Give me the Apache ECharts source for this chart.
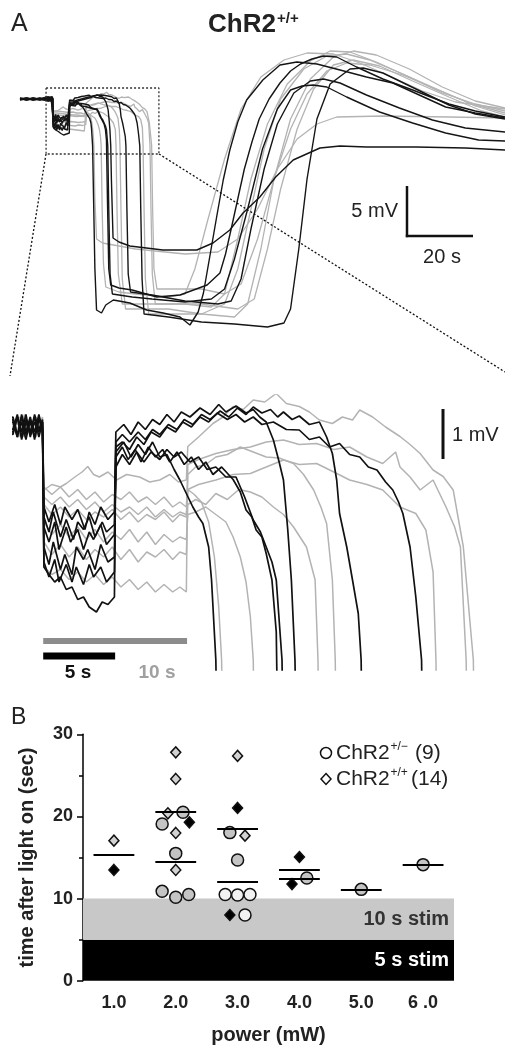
<!DOCTYPE html>
<html><head><meta charset="utf-8">
<script src="https://cdn.jsdelivr.net/npm/echarts@6.0.0/dist/echarts.min.js"></script>
<style>html,body{margin:0;padding:0;background:#fff}#c{width:505px;height:1047px}</style>
</head><body><div id="c"></div>
<script>
// ---------- Panel A: membrane potential traces, [time (s), Vm (mV rel. baseline)] ----------
// black = 5 s stimulation, grey = 10 s stimulation
const black1 = [[0,0.05],[2,-0.1],[4,0.1],[6,-0.05],[7.9,0.1],[8.2,-0.2],[8.5,0.25],[8.8,-0.1],[9.1,0.2],[9.4,-0.25],[9.7,0.15],[9.95,0.0],
 [10.05,-2.4],[10.4,-2.75],[10.7,-2.3],[11.2,-2.85],[11.5,-2.55],[12,-2.95],[12.3,-2.4],[12.8,-2.65],[13.1,-2.45],[13.6,-2.85],[14,-2.35],[14.5,-2.7],[14.95,-2.6],
 [15.05,-0.5],[15.6,-0.3],[16.1,-0.6],[16.6,-0.35],[17.1,-0.55],[17.6,-0.3],[18.1,-0.6],[18.6,-0.55],[19.1,-0.85],[19.5,-1.06],[19.9,-1.3],[20.4,-1.6],[20.8,-1.8],[21.1,-1.93],[21.5,-2.4],[21.7,-3.06],[22.0,-4.66],
 [22.3,-10],[22.7,-17],[23.2,-21.1],[24.7,-21.4],[26,-20.6],[28.3,-20.1],[33.3,-20.4],[38.4,-21.1],[43.4,-21.4],[48.5,-21.8],[51.5,-22.6],[54,-21.3],[55.6,-19.4],[57.5,-15.8],[59.6,-11.8],[61.6,-8.1],[63.6,-5.1],[66,-2.3],[68.7,-0.1],[73.6,1.9],[78.8,3.4],[83.9,3.7],[90,3.5],[97,2.9],[105,2.2],[113,1.6],[121,0.4],[129,-0.8],[138,-1.4],[147,-1.9]];
const black2 = [[0,-0.05],[2,0.1],[4,-0.1],[6,0.05],[7.9,-0.15],[8.2,0.2],[8.5,-0.1],[8.8,0.25],[9.1,-0.2],[9.4,0.1],[9.7,-0.1],[9.95,0.1],
 [10.05,-2.0],[10.4,-2.3],[10.8,-1.9],[11.1,-2.45],[11.6,-2.0],[11.9,-2.3],[12.4,-2.05],[12.8,-2.45],[13.2,-2.1],[13.5,-2.25],[14,-1.95],[14.4,-2.35],[14.95,-2.15],
 [15.05,-0.6],[15.5,-0.4],[15.9,-0.65],[16.4,-0.45],[16.8,-0.7],[17.3,-0.4],[17.8,-0.6],[18.3,-0.45],[18.8,-0.7],[19.3,-0.5],[19.8,-0.75],[20.3,-0.6],[20.8,-0.85],[21.3,-0.7],[21.8,-0.95],[22.4,-0.8],[23.2,-1.05],[23.7,-1.3],[24.1,-1.66],[24.5,-1.8],[24.8,-2.06],[25.2,-2.2],[25.5,-2.53],[25.9,-3.06],[26.2,-4.1],
 [26.5,-10],[26.9,-17],[27.5,-18.6],[30,-18.9],[34,-19.1],[41.5,-19.8],[48.5,-19.6],[56.7,-18.6],[60.6,-17.4],[62.3,-15.5],[64,-13],[66,-10],[68,-7],[70.3,-4.3],[72.5,-2],[75.5,0],[78.8,1.6],[82,2.8],[85,3.5],[88.5,4.0],[92,4.3],[96,4.2],[102,3.2],[110,2.0],[119,0.9],[130,-0.5],[138,-1.2],[147,-1.8]];
const black3 = [[0,0.1],[2,-0.05],[4,0.05],[6,-0.1],[7.9,0.2],[8.2,-0.15],[8.5,0.1],[8.8,-0.25],[9.1,0.15],[9.4,-0.1],[9.7,0.25],[9.95,-0.05],
 [10.05,-1.8],[10.4,-2.1],[10.7,-1.7],[11.2,-2.2],[11.6,-1.85],[12.1,-2.25],[12.4,-1.9],[12.8,-2.05],[13.2,-1.8],[13.6,-2.2],[14.1,-1.9],[14.4,-2.1],[14.95,-1.95],
 [15.05,-0.8],[15.5,-0.55],[16,-0.75],[16.5,-0.5],[17,-0.7],[17.5,-0.5],[18.1,-0.65],[18.6,-0.45],[19.1,-0.6],[19.6,-0.5],[20.2,-0.7],[20.8,-0.6],[21.4,-0.85],[22,-0.8],[22.7,-1.0],[23.4,-1.0],[24,-1.4],[24.6,-1.86],[25.1,-2.1],[25.5,-2.4],[25.9,-2.7],[26.2,-3.06],[26.6,-4.66],
 [26.9,-11],[27.3,-17.5],[28,-19.5],[34,-19.8],[40,-20],[50,-20.3],[58,-20],[62,-19],[65,-16],[69,-11],[73.5,-5],[78,-1],[82,0.9],[85.5,1.3],[88.8,1.4],[93,1.2],[99,0.2],[109,-1.3],[119,-2.4],[129,-3.4],[139,-4.1],[147,-4.2]];
const black4 = [[0,-0.1],[2,0.05],[4,-0.05],[6,0.1],[7.9,-0.05],[8.2,0.25],[8.5,-0.2],[8.8,0.15],[9.1,-0.1],[9.4,0.2],[9.7,-0.2],[9.95,0.1],
 [10.05,-1.6],[10.4,-1.9],[10.8,-1.55],[11.2,-1.95],[11.5,-1.6],[12,-1.85],[12.4,-1.65],[12.9,-2.05],[13.2,-1.7],[13.6,-1.95],[14,-1.6],[14.5,-1.85],[14.95,-1.7],
 [15.05,-0.1],[15.6,0.05],[16.1,-0.15],[16.6,0.1],[17.1,-0.05],[17.6,0.15],[18.1,0.05],[18.6,0.25],[19.1,0.1],[19.6,0.3],[20.2,0.2],[20.9,0.38],[21.6,0.25],[22.2,0.45],[22.7,0.3],[23.4,0.42],[24.1,0.28],[24.6,0.35],[25.05,0.2],[25.5,0.1],[26,-0.26],[26.4,-0.7],[26.7,-1.06],[27.0,-2.06],[27.25,-3.06],[27.5,-4.66],
 [27.7,-8],[28.2,-13.9],[30,-14.3],[33.3,-14.7],[43.3,-15.1],[53.6,-15.1],[58.5,-14.4],[63.6,-13.1],[67.6,-11.4],[72.7,-9.8],[77.5,-7.8],[82.8,-6.1],[90.9,-4.9],[97,-4.7],[105,-4.8],[120,-4.8],[135,-4.9],[147,-5.1]];
const black5 = [[0,0.0],[2,0.1],[4,-0.1],[6,0.0],[7.9,0.15],[8.2,-0.2],[8.5,0.2],[8.8,-0.15],[9.1,0.1],[9.4,-0.2],[9.7,0.2],[9.95,-0.1],
 [10.05,-2.7],[10.4,-3.0],[10.8,-2.65],[11.1,-3.1],[11.6,-2.75],[12,-3.1],[12.3,-2.8],[12.8,-3.15],[13.2,-2.75],[13.5,-3.0],[14,-2.8],[14.4,-3.1],[14.95,-2.9],
 [15.05,-0.3],[15.5,-0.15],[16,-0.3],[16.6,-0.1],[17.1,-0.25],[17.6,-0.05],[18.1,-0.15],[18.7,0.05],[19.3,-0.05],[19.8,0.15],[20.4,0.05],[21,0.25],[21.6,0.15],[22.3,0.32],[22.9,0.2],[23.5,0.38],[24.1,0.25],[24.6,0.4],[25.2,0.28],[25.8,0.35],[26.3,0.2],[26.7,0.3],[27.3,0.15],[27.8,0.22],[28.5,0.05],[29.2,0.1],[29.7,-0.2],[30.1,-0.53],[30.4,-1.06],[30.6,-1.73],[31.1,-2.4],[31.5,-3.06],[31.9,-3.73],[32.1,-4.66],
 [32.4,-11],[32.8,-17.5],[33.5,-19.3],[40,-19.6],[50,-20.2],[60,-20.5],[64,-20.2],[67,-18],[70,-13],[74,-7],[78,-2.5],[83,0.6],[88,1.8],[92,2.0],[97,1.6],[105,0.4],[115,-0.9],[125,-2.1],[135,-2.9],[147,-3.3]];
const black6 = [[0,0.05],[2,-0.1],[4,0.1],[6,-0.05],[7.9,-0.1],[8.2,0.2],[8.5,-0.25],[8.8,0.1],[9.1,-0.15],[9.4,0.25],[9.7,-0.05],[9.95,0.15],
 [10.05,-2.8],[10.4,-2.95],[10.8,-3.1],[11.2,-3.0],[11.6,-3.25],[12,-3.2],[12.4,-3.45],[12.8,-3.4],[13.2,-3.6],[13.7,-3.7],[14.1,-3.5],[14.5,-3.55],[14.95,-3.4],
 [15.05,-0.4],[15.5,-0.3],[16,-0.45],[16.5,-0.2],[17,-0.35],[17.5,-0.1],[18.1,-0.2],[18.6,0.0],[19.2,-0.1],[19.7,0.1],[20.3,0.0],[20.9,0.2],[21.5,0.1],[22.1,0.28],[22.8,0.15],[23.4,0.25],[24,0.1],[24.6,0.2],[25.2,0.05],[26,0.1],[26.9,-0.05],[27.8,-0.06],[28.5,-0.25],[29.2,-0.2],[29.9,-0.4],[30.6,-0.33],[31.3,-0.55],[32,-0.6],[32.6,-0.8],[33.2,-0.86],[33.8,-1.1],[34.3,-1.26],[34.7,-1.5],[35.0,-1.73],[35.5,-2.4],[35.9,-3.4],[36.3,-4.66],
 [36.6,-11],[37,-18],[37.6,-21.5],[45,-21.8],[55,-22.3],[65,-22.5],[75,-22.8],[80,-22.4],[82,-21],[84.5,-15],[87,-8],[90,-2],[94,1.5],[100,3.0],[104,3.1],[110,2.6],[120,1.0],[130,-0.6],[138,-1.5],[147,-2.0]];

const grey1 = [[0,0.1],[3,-0.05],[6,0.1],[7.9,0.0],[8.3,0.2],[8.7,-0.1],[9.1,0.15],[9.5,-0.15],[9.95,0.05],
 [10.05,-1.9],[10.6,-2.15],[11.2,-1.95],[11.8,-2.2],[12.4,-2.0],[13,-2.25],[13.6,-2.05],[14.2,-2.3],[14.8,-2.1],[15.4,-2.25],[16,-2.05],[16.6,-2.3],[17.2,-2.1],[17.8,-2.35],[18.4,-2.15],[19,-2.3],[19.5,-2.2],[19.95,-2.25],
 [20.05,-1.75],[20.6,-1.7],[21.3,-1.6],[22,-1.75],[22.7,-1.9],[23.2,-2.2],[23.7,-2.6],[24.1,-3.1],[24.4,-3.8],[24.6,-4.66],
 [24.9,-11],[25.3,-16.5],[26,-18.8],[30,-19.3],[35,-19.5],[45,-19.8],[50,-19.5],[53,-17],[57,-12],[62,-6],[67,-1],[73,2.2],[80,3.9],[87,4.6],[95,4.5],[103,3.6],[112,2.3],[122,0.8],[132,-0.3],[147,-1.0]];
const grey2 = [[0,-0.1],[3,0.05],[6,-0.05],[7.9,0.1],[8.3,-0.2],[8.7,0.15],[9.1,-0.1],[9.5,0.2],[9.95,-0.05],
 [10.05,-2.3],[10.6,-2.55],[11.2,-2.35],[11.8,-2.6],[12.4,-2.4],[13,-2.65],[13.6,-2.45],[14.2,-2.6],[14.8,-2.4],[15.4,-2.65],[16,-2.45],[16.6,-2.7],[17.2,-2.5],[17.8,-2.6],[18.4,-2.45],[19,-2.65],[19.5,-2.5],[19.95,-2.55],
 [20.05,-1.55],[20.6,-1.45],[21.3,-1.55],[22,-1.33],[22.8,-1.45],[23.6,-1.25],[24.4,-1.3],[25.2,-1.4],[26,-1.6],[26.7,-1.75],[27.4,-2.0],[28.3,-2.4],[28.9,-3.06],[29.1,-4.66],
 [29.4,-11],[29.8,-17.5],[31,-20.5],[40,-20.5],[50,-20.5],[58,-20.8],[62,-19.5],[66,-14],[70,-8],[75,-2.5],[81,1.5],[88,3.8],[94,4.8],[100,4.7],[108,3.7],[118,2.2],[128,0.6],[138,-0.5],[147,-1.2]];
const grey3 = [[0,0.05],[3,-0.1],[6,0.05],[7.9,-0.1],[8.3,0.15],[8.7,-0.2],[9.1,0.1],[9.5,-0.1],[9.95,0.2],
 [10.05,-1.2],[10.6,-1.35],[11.2,-1.2],[11.8,-1.4],[12.4,-1.25],[13,-1.45],[13.6,-1.3],[14.2,-1.5],[14.8,-1.35],[15.4,-1.45],[16,-1.3],[16.6,-1.5],[17.2,-1.4],[17.8,-1.55],[18.4,-1.4],[19,-1.6],[19.5,-1.5],[19.95,-1.6],
 [20.05,-0.95],[20.6,-0.8],[21.3,-0.75],[22,-0.6],[22.8,-0.55],[23.7,-0.4],[24.6,-0.5],[25.5,-0.6],[26.4,-0.62],[27.4,-0.73],[28.1,-0.95],[28.8,-1.26],[29.3,-1.6],[29.7,-1.93],[30.1,-3.06],[30.3,-4.66],
 [30.6,-11],[31,-18],[32,-21],[45,-21],[55,-21.5],[62,-20.5],[66,-17],[70,-11],[74,-5],[79,0],[86,3],[93,4.3],[99,4.5],[106,3.9],[116,2.5],[127,0.9],[138,-0.7],[147,-1.6]];
const grey4 = [[0,-0.05],[3,0.1],[6,-0.1],[7.9,0.05],[8.3,-0.15],[8.7,0.2],[9.1,-0.05],[9.5,0.15],[9.95,-0.1],
 [10.05,-1.55],[10.6,-1.75],[11.2,-1.6],[11.8,-1.8],[12.4,-1.65],[13,-1.85],[13.6,-1.7],[14.2,-1.8],[14.8,-1.65],[15.4,-1.85],[16,-1.7],[16.6,-1.9],[17.2,-1.75],[17.8,-1.85],[18.4,-1.7],[19,-1.9],[19.5,-1.75],[19.95,-1.8],
 [20.05,-1.25],[20.8,-1.15],[22,-1.06],[23.2,-0.95],[24.4,-0.93],[25.5,-0.8],[26.7,-0.66],[27.8,-0.75],[29,-0.73],[30.2,-0.9],[31.3,-1.06],[32.5,-1.15],[33.6,-1.26],[34.8,-1.6],[35.9,-1.73],[36.6,-2.06],[37.1,-2.9],[37.3,-4.66],
 [37.6,-11],[38,-18],[39,-21.5],[50,-21.5],[55,-21.5],[65,-21.8],[69,-20.5],[73,-15],[77,-8],[82,-2],[88,2],[95,4.2],[101,4.8],[108,4.4],[118,3.0],[128,1.2],[138,-0.2],[147,-0.9]];
const grey5 = [[0,0.1],[3,-0.1],[6,0.05],[7.9,-0.05],[8.3,0.2],[8.7,-0.15],[9.1,0.2],[9.5,-0.2],[9.95,0.1],
 [10.05,-2.8],[10.6,-2.95],[11.2,-2.85],[11.8,-3.05],[12.4,-2.9],[13,-3.1],[13.6,-2.95],[14.2,-3.15],[14.8,-3.0],[15.4,-3.2],[16,-3.05],[16.6,-3.25],[17.2,-3.1],[17.8,-3.3],[18.4,-3.15],[19,-3.3],[19.5,-3.2],[19.95,-3.3],
 [20.05,-0.75],[20.8,-0.65],[22,-0.53],[23.2,-0.45],[24.4,-0.4],[25.5,-0.3],[26.7,-0.26],[27.8,-0.35],[29,-0.33],[30.2,-0.45],[31.3,-0.4],[32.5,-0.6],[33.6,-0.73],[34.5,-0.5],[34.8,-0.8],[35.5,-1.0],[36.2,-1.26],[37.1,-1.06],[38,-1.6],[38.6,-2.0],[39,-2.4],[39.4,-4.66],
 [39.7,-11],[40.1,-17.5],[41,-20.5],[55,-20.5],[66,-21],[71,-20],[75,-15],[79,-9],[84,-3],[89,1],[95,3.4],[101,3.9],[109,3.3],[119,1.8],[130,0.2],[140,-1.2],[147,-1.8]];
const grey6 = [[0,-0.05],[3,0.1],[6,-0.05],[7.9,0.15],[8.3,-0.1],[8.7,0.25],[9.1,-0.05],[9.5,0.1],[9.95,-0.15],
 [10.05,-1.26],[10.6,-1.15],[11.2,-1.2],[11.6,-1.13],[12.2,-1.0],[12.7,-0.9],[13.1,-0.79],[13.5,-0.95],[13.9,-1.0],[14.5,-0.9],[15.1,-1.06],[15.8,-0.95],[16.7,-1.0],[17.4,-1.1],[18.1,-1.06],[18.8,-0.95],[19.4,-1.1],[19.95,-1.06],
 [20.05,-0.39],[20.8,-0.2],[21.8,0.07],[22.5,0.2],[23.2,0.41],[23.9,0.35],[24.6,0.54],[25.4,0.5],[26.2,0.67],[26.9,0.47],[27.8,0.41],[28.5,0.3],[29.2,0.14],[30.1,0.07],[30.8,0.2],[31.5,0.14],[32,0.34],[32.9,0.2],[33.8,0.0],[34.8,-0.19],[35.5,-0.35],[36.2,-0.53],[37.1,-0.86],[37.8,-0.99],[38.5,-1.26],[39.2,-2.39],[39.9,-4.66],
 [40.2,-11],[40.6,-17],[41.5,-19],[55,-19],[62,-19.5],[67,-18.5],[72,-14],[77,-8],[82,-3],[87,0.5],[93,2.8],[99,3.6],[106,3.4],[116,2.4],[126,1.0],[137,-0.5],[147,-1.4]];
const grey7 = [[0,0.0],[3,0.05],[6,-0.1],[7.9,-0.05],[8.3,0.1],[8.7,-0.2],[9.1,0.05],[9.5,-0.1],[9.95,0.1],
 [10.05,-1.4],[10.6,-1.55],[11.2,-1.4],[11.8,-1.6],[12.4,-1.45],[13,-1.65],[13.6,-1.5],[14.2,-1.7],[14.8,-1.55],[15.4,-1.7],[16,-1.6],[16.6,-1.75],[17.2,-1.6],[17.8,-1.8],[18.4,-1.65],[19,-1.8],[19.5,-1.7],[19.95,-1.75],
 [20.05,-1.25],[20.5,-1.35],[21,-1.5],[21.5,-1.9],[21.9,-2.6],[22.2,-3.6],[22.4,-4.66],
 [22.7,-10],[23.2,-14],[25,-14.4],[35,-15],[50,-15.5],[60,-15.3],[66,-14],[72,-11],[78,-7],[84,-4],[90,-2.5],[96,-1.8],[110,-1.7],[130,-1.8],[147,-1.9]];

const blackTraces = [black1, black2, black3, black4, black5, black6];
const greyTraces = [grey1, grey2, grey3, grey4, grey5, grey6, grey7];
const stim10 = [10, 20];   // s, light on/off for 10 s stimulation
const stim5 = [10, 15];    // s, light on/off for 5 s stimulation

// ---------- Panel B: [power (mW), time after light on (s)] ----------
const powerLabels = ['1.0', '2.0', '3.0', '4.0', '5.0', '6 .0'];
const powerValues = [1, 2, 3, 4, 5, 6];
const greyCircles = [[2.117,20.5],[1.78,19.08],[2.0,15.5],[1.78,10.88],[2.0,10.15],[2.21,10.5],[2.875,18.03],[3.0,14.7],[4.12,12.5],[5.0,11.12],[6.0,14.13]];
const openCircles = [[2.8,10.5],[3.0,10.43],[3.2,10.5],[3.12,8.0]];
const greyDiamonds = [[1.0,17.05],[2.0,27.8],[2.0,24.56],[1.873,20.38],[2.0,17.99],[2.0,13.48],[3.0,27.37],[3.12,17.66]];
const blackDiamonds = [[1.0,13.48],[2.22,19.29],[3.0,21.03],[2.875,8.0],[4.0,15.06],[3.88,11.77]];
const meanPower = [1, 2, 2, 3, 3, 4, 4, 5, 6];
const meanTime = [15.3, 20.58, 14.45, 18.47, 12.1, 13.48, 12.46, 11.12, 14.13];
const stimBands = [[0, 5, '5 s stim'], [5, 10, '10 s stim']];

const FONT = 'Liberation Sans, Arial, Helvetica, sans-serif';
const GREY = '#b3b3b3';
const chart = echarts.init(document.getElementById('c'), null, {renderer: 'canvas'});

const series = [];
function trace(data, gi, color, width, z) {
  return {type: 'line', data: data, xAxisIndex: gi, yAxisIndex: gi, showSymbol: false, symbol: 'none',
    lineStyle: {color: color, width: width}, z: z, silent: true, animation: false, clip: true};
}
greyTraces.forEach(d => { series.push(trace(d, 0, GREY, 1.3, 2)); series.push(trace(d, 1, GREY, 1.5, 2)); });
blackTraces.forEach(d => { series.push(trace(d, 0, '#151515', 1.4, 3)); series.push(trace(d, 1, '#111', 1.7, 3)); });
// dotted zoom box (region enlarged below)
series.push({type: 'line', xAxisIndex: 0, yAxisIndex: 0, showSymbol: false, symbol: 'none', silent: true, z: 4,
  data: [[7.9, 1.1], [42.1, 1.1], [42.1, -5.5], [7.9, -5.5], [7.9, 1.1]],
  lineStyle: {color: '#333', width: 1.3, type: [2, 2]}});
// stimulation bars
series.push({type: 'line', xAxisIndex: 1, yAxisIndex: 1, showSymbol: false, symbol: 'none', silent: true, z: 5,
  data: [[stim10[0], -4.28], [stim10[1], -4.28]], lineStyle: {color: '#8c8c8c', width: 6, cap: 'butt'}});
series.push({type: 'line', xAxisIndex: 1, yAxisIndex: 1, showSymbol: false, symbol: 'none', silent: true, z: 5,
  data: [[stim5[0], -4.58], [stim5[1], -4.58]], lineStyle: {color: '#000', width: 7, cap: 'butt'}});

// Panel B bands
series.push({type: 'line', xAxisIndex: 2, yAxisIndex: 2, data: [], silent: true, z: 1,
  markArea: {silent: true, data: stimBands.map((b, i) => [
    {coord: [0.5, b[0]], name: b[2], itemStyle: {color: i === 0 ? '#000' : '#c8c8c8'},
     label: {show: true, position: 'insideRight', distance: 5, color: i === 0 ? '#fff' : '#333', fontWeight: 'bold', fontSize: 20, fontFamily: FONT}},
    {coord: [6.5, b[1]]}])}});
// mean lines
series.push({type: 'line', xAxisIndex: 2, yAxisIndex: 2, data: [], silent: true, z: 3,
  markLine: {silent: true, symbol: ['none', 'none'], animation: false, label: {show: false},
    lineStyle: {color: '#000', width: 2, type: 'solid'},
    data: meanPower.map((p, i) => [{coord: [p - 0.33, meanTime[i]]}, {coord: [p + 0.33, meanTime[i]]}])}});
function pts(data, symbol, size, fill) {
  return {type: 'scatter', xAxisIndex: 2, yAxisIndex: 2, data: data, symbol: symbol, symbolSize: size, silent: true, z: 4,
    itemStyle: {color: fill, borderColor: '#111', borderWidth: 1.5, opacity: 1}};
}
series.push(pts(greyCircles, 'circle', 12, '#c4c4c4'));
series.push(pts(openCircles, 'circle', 12, '#f2f2f2'));
series.push(pts(greyDiamonds, 'diamond', [10, 11], '#d2d2d2'));
series.push(pts(blackDiamonds, 'diamond', [10, 11], '#000'));

const txt = (x, y, text, size, weight, color, align) => ({type: 'text', x: x, y: y, silent: true, z: 10,
  style: {text: text, font: (weight || 'normal') + ' ' + size + 'px ' + FONT, fill: color || '#222', textAlign: align || 'left', textVerticalAlign: 'middle'}});
const seg = (x1, y1, x2, y2, w, dash) => ({type: 'line', silent: true, z: 10,
  shape: {x1: x1, y1: y1, x2: x2, y2: y2}, style: {stroke: '#111', lineWidth: w, lineDash: dash || null}});

const graphic = [
  txt(11, 24, 'A', 25, 'normal', '#222'),
  txt(208, 25, 'ChR2', 26, 'bold', '#222'),
  txt(277, 19, '+/+', 15, 'bold', '#222'),
  // scale bars
  seg(407, 186, 407, 237.2, 2.5), seg(405.8, 236, 473, 236, 2.5),
  txt(398, 211, '5 mV', 20, 'normal', '#222', 'right'),
  txt(442, 257, '20 s', 20, 'normal', '#222', 'center'),
  seg(443, 409, 443, 459, 3),
  txt(452, 435, '1 mV', 20, 'normal', '#222'),
  // zoom connectors
  seg(46, 154, 10, 376, 1.3, [2, 2]), seg(159, 154, 505, 372, 1.3, [2, 2]),
  txt(78, 673, '5 s', 19, 'bold', '#111', 'center'),
  txt(157, 673, '10 s', 19, 'bold', '#a0a0a0', 'center'),
  txt(11, 718, 'B', 23, 'normal', '#222'),
  // legend
  {type: 'circle', silent: true, z: 10, shape: {cx: 326, cy: 753, r: 5.5}, style: {fill: '#fff', stroke: '#111', lineWidth: 1.5}},
  {type: 'polygon', silent: true, z: 10, shape: {points: [[326, 773.5], [331, 779], [326, 784.5], [321, 779]]}, style: {fill: '#fff', stroke: '#111', lineWidth: 1.5}},
  txt(336, 753, 'ChR2', 21, 'normal', '#222'),
  txt(390.5, 747, '+/\u2212', 12, 'normal', '#222'),
  txt(415, 753, '(9)', 21, 'normal', '#222'),
  txt(336, 779, 'ChR2', 21, 'normal', '#222'),
  txt(390.5, 773, '+/+', 12, 'normal', '#222'),
  txt(411, 779, '(14)', 21, 'normal', '#222')
];

chart.setOption({
  animation: false,
  backgroundColor: '#fff',
  textStyle: {fontFamily: FONT},
  grid: [
    {left: 20, top: 39, width: 485, height: 300},
    {left: 13, top: 395, width: 492, height: 275},
    {left: 83, top: 734.3, width: 371, height: 246.4}
  ],
  xAxis: [
    {gridIndex: 0, type: 'value', min: 0, max: 147, show: false},
    {gridIndex: 1, type: 'value', min: 7.9, max: 42.1, show: false},
    {gridIndex: 2, type: 'value', min: 0.5, max: 6.5, axisLine: {show: false}, axisTick: {show: false}, splitLine: {show: false},
      axisLabel: {customValues: powerValues, formatter: v => powerLabels[powerValues.indexOf(Math.round(v))], fontWeight: 'bold', fontSize: 18, color: '#222', margin: 13, fontFamily: FONT},
      name: 'power (mW)', nameLocation: 'middle', nameGap: 45, nameTextStyle: {fontWeight: 'bold', fontSize: 20, color: '#222', fontFamily: FONT}}
  ],
  yAxis: [
    {gridIndex: 0, type: 'value', min: -24, max: 6, show: false},
    {gridIndex: 1, type: 'value', min: -4.86, max: 0.64, show: false},
    {gridIndex: 2, type: 'value', min: 0, max: 30, interval: 10,
      axisLine: {show: true, lineStyle: {color: '#000', width: 1.5}},
      axisTick: {show: true, length: 6, lineStyle: {color: '#000', width: 1.5}},
      minorTick: {show: true, splitNumber: 2, length: 4, lineStyle: {color: '#000', width: 1.5}},
      splitLine: {show: false},
      axisLabel: {fontWeight: 'bold', fontSize: 18, color: '#222', margin: 10, fontFamily: FONT},
      name: 'time after light on (sec)', nameLocation: 'middle', nameGap: 46,
      nameTextStyle: {fontWeight: 'bold', fontSize: 20, color: '#222', fontFamily: FONT}}
  ],
  series: series,
  graphic: graphic
});
</script></body></html>
